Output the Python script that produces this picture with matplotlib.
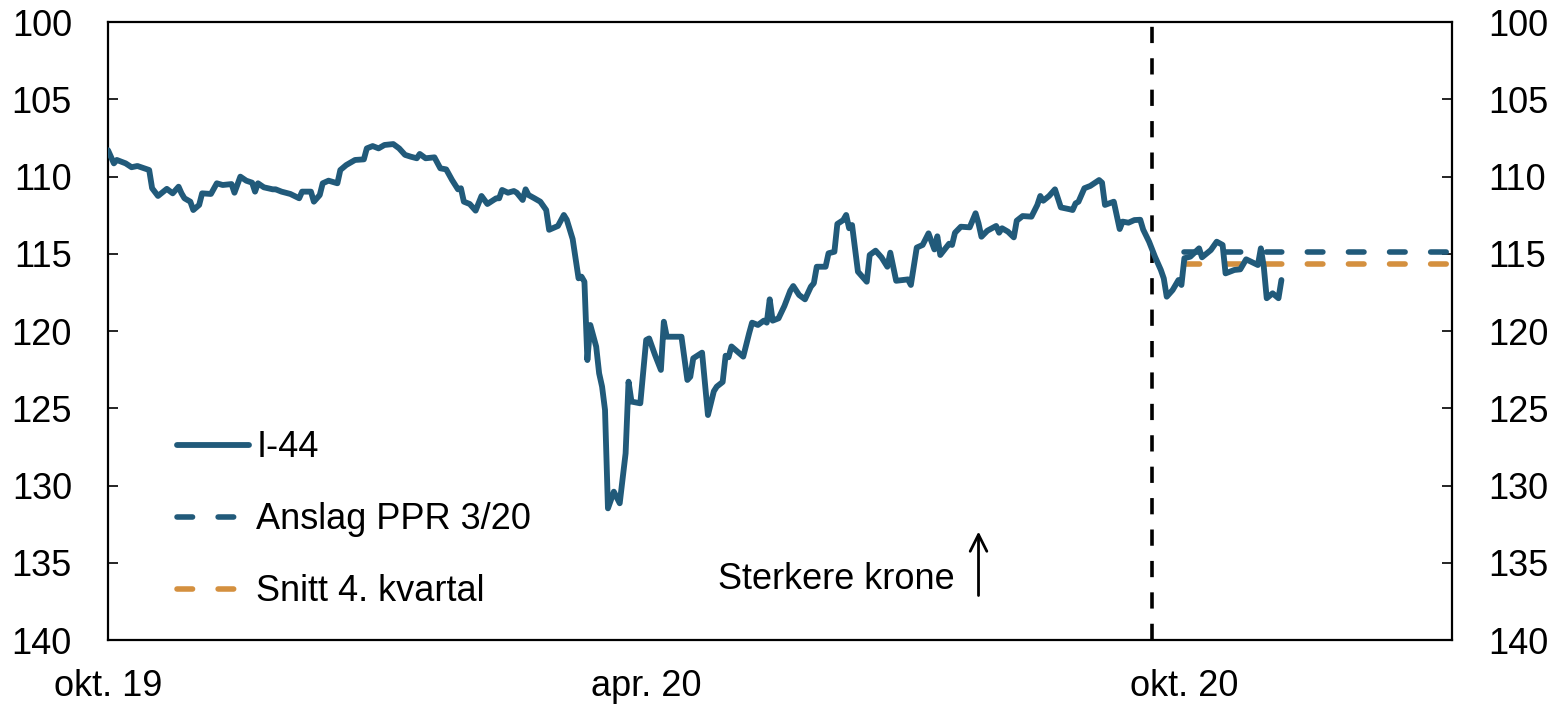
import numpy as np
import pandas as pd
import matplotlib
matplotlib.use('Agg')
import matplotlib.pyplot as plt

# I-44 (inverted scale: up = stronger krone)
dates = ['2019-10-01', '2019-10-03', '2019-10-04', '2019-10-07', '2019-10-09', '2019-10-11',
         '2019-10-15', '2019-10-16', '2019-10-18', '2019-10-21', '2019-10-23', '2019-10-25',
         '2019-10-26', '2019-10-27', '2019-10-29', '2019-10-30', '2019-11-01', '2019-11-02',
         '2019-11-05', '2019-11-07', '2019-11-09', '2019-11-12', '2019-11-13', '2019-11-15',
         '2019-11-17', '2019-11-19', '2019-11-20', '2019-11-21', '2019-11-23', '2019-11-26',
         '2019-11-27', '2019-11-29', '2019-12-02', '2019-12-05', '2019-12-06', '2019-12-09',
         '2019-12-10', '2019-12-12', '2019-12-13', '2019-12-15', '2019-12-18', '2019-12-19',
         '2019-12-21', '2019-12-24', '2019-12-27', '2019-12-28', '2019-12-30', '2020-01-01',
         '2020-01-03', '2020-01-06', '2020-01-08', '2020-01-10', '2020-01-12', '2020-01-14',
         '2020-01-15', '2020-01-17', '2020-01-20', '2020-01-22', '2020-01-24', '2020-01-26',
         '2020-01-28', '2020-01-29', '2020-01-30', '2020-02-01', '2020-02-03', '2020-02-05',
         '2020-02-07', '2020-02-10', '2020-02-11', '2020-02-12', '2020-02-14', '2020-02-16',
         '2020-02-17', '2020-02-19', '2020-02-20', '2020-02-21', '2020-02-23', '2020-02-25',
         '2020-02-27', '2020-02-28', '2020-03-02', '2020-03-04', '2020-03-05', '2020-03-07',
         '2020-03-09', '2020-03-10', '2020-03-11', '2020-03-12', '2020-03-13', '2020-03-15',
         '2020-03-16', '2020-03-17', '2020-03-18', '2020-03-19', '2020-03-21', '2020-03-23',
         '2020-03-25', '2020-03-26', '2020-03-27', '2020-03-30', '2020-04-01', '2020-04-02',
         '2020-04-04', '2020-04-06', '2020-04-07', '2020-04-08', '2020-04-13', '2020-04-15',
         '2020-04-16', '2020-04-17', '2020-04-20', '2020-04-22', '2020-04-24', '2020-04-25',
         '2020-04-27', '2020-04-28', '2020-04-29', '2020-04-30', '2020-05-04', '2020-05-06',
         '2020-05-07', '2020-05-09', '2020-05-11', '2020-05-12', '2020-05-13', '2020-05-14',
         '2020-05-16', '2020-05-18', '2020-05-20', '2020-05-21', '2020-05-23', '2020-05-25',
         '2020-05-27', '2020-05-28', '2020-05-29', '2020-06-01', '2020-06-02', '2020-06-04',
         '2020-06-05', '2020-06-07', '2020-06-08', '2020-06-09', '2020-06-10', '2020-06-12',
         '2020-06-15', '2020-06-16', '2020-06-18', '2020-06-20', '2020-06-22', '2020-06-23',
         '2020-06-25', '2020-06-29', '2020-06-30', '2020-07-02', '2020-07-04', '2020-07-06',
         '2020-07-08', '2020-07-09', '2020-07-10', '2020-07-13', '2020-07-14', '2020-07-15',
         '2020-07-17', '2020-07-20', '2020-07-22', '2020-07-23', '2020-07-24', '2020-07-26',
         '2020-07-29', '2020-07-30', '2020-07-31', '2020-08-02', '2020-08-04', '2020-08-05',
         '2020-08-07', '2020-08-10', '2020-08-12', '2020-08-13', '2020-08-14', '2020-08-16',
         '2020-08-18', '2020-08-20', '2020-08-23', '2020-08-24', '2020-08-25', '2020-08-26',
         '2020-08-28', '2020-08-30', '2020-09-02', '2020-09-03', '2020-09-04', '2020-09-07',
         '2020-09-09', '2020-09-10', '2020-09-12', '2020-09-14', '2020-09-16', '2020-09-17',
         '2020-09-19', '2020-09-21', '2020-09-23', '2020-09-24', '2020-09-25', '2020-09-27',
         '2020-09-29', '2020-09-30', '2020-10-01', '2020-10-03', '2020-10-06', '2020-10-07',
         '2020-10-10', '2020-10-12', '2020-10-14', '2020-10-15', '2020-10-18', '2020-10-20',
         '2020-10-22', '2020-10-26', '2020-10-27', '2020-10-28', '2020-10-29', '2020-10-31',
         '2020-11-02', '2020-11-03']
i44 = [108.30, 109.15, 108.93, 109.15, 109.40, 109.32,
       109.58, 110.76, 111.26, 110.80, 111.09, 110.66,
       111.09, 111.41, 111.63, 112.17, 111.84, 111.09,
       111.13, 110.44, 110.55, 110.49, 111.05, 110.01,
       110.27, 110.40, 110.98, 110.44, 110.70, 110.83,
       110.83, 110.98, 111.13, 111.41, 110.98, 110.98,
       111.63, 111.20, 110.44, 110.27, 110.44, 109.58,
       109.26, 108.93, 108.89, 108.18, 108.03, 108.18,
       107.96, 107.90, 108.18, 108.60, 108.72, 108.82,
       108.54, 108.82, 108.76, 109.47, 109.54, 110.23,
       110.83, 110.76, 111.63, 111.78, 112.21, 111.26,
       111.78, 111.41, 111.41, 110.87, 111.05, 110.94,
       111.05, 111.52, 110.83, 111.20, 111.41, 111.63,
       112.17, 113.45, 113.20, 112.49, 112.80, 114.05,
       116.59, 116.48, 116.81, 121.88, 119.61, 121.01,
       122.74, 123.60, 125.11, 131.48, 130.40, 131.15,
       127.92, 123.28, 124.57, 124.68, 120.58, 120.48,
       121.55, 122.52, 119.40, 120.37, 120.37, 123.17,
       122.96, 121.77, 121.40, 125.44, 123.90, 123.60,
       123.30, 121.60, 121.70, 121.00, 121.66, 120.15,
       119.46, 119.61, 119.33, 119.46, 117.95, 119.33,
       119.18, 118.38, 117.39, 117.09, 117.67, 117.95,
       117.13, 116.91, 115.84, 115.84, 114.97, 114.87,
       113.07, 112.82, 112.49, 113.35, 113.14, 116.16,
       116.81, 115.08, 114.80, 115.23, 115.84, 114.93,
       116.75, 116.66, 117.02, 114.60, 114.43, 113.68,
       114.72, 113.87, 115.08, 114.35, 114.43, 113.64,
       113.25, 113.29, 112.38, 113.03, 113.90, 113.51,
       113.20, 113.64, 113.35, 113.57, 113.94, 112.86,
       112.56, 112.60, 111.84, 111.26, 111.57, 111.26,
       110.83, 112.00, 112.12, 112.17, 111.74, 111.63,
       110.76, 110.61, 110.23, 110.40, 111.84, 111.63,
       113.40, 112.92, 112.99, 112.82, 112.80, 113.44,
       114.22, 115.19, 116.05, 116.60, 117.78, 117.35,
       116.70, 117.02, 115.29, 115.19, 114.65, 115.23,
       114.76, 114.22, 114.43, 116.27, 116.05, 116.01,
       115.36, 115.73, 114.65, 115.84, 117.88, 117.56,
       117.88, 116.70]

fc_dates = ['2020-10-01', '2020-12-31']
ppr_320 = [114.87, 114.87]
snitt_q4 = [115.68, 115.68]
mpr_date = '2020-09-20'

xlabels = ['okt. 19', 'apr. 20', 'okt. 20']
xticks = ['2019-10-01', '2020-04-01', '2020-10-01']

blue = '#215a7a'
orange = '#d4903f'
fs = 26

plt.rcParams['font.family'] = ['Liberation Sans', 'DejaVu Sans']

fig = plt.figure(figsize=(15.59, 7.05), dpi=100)
ax = fig.add_axes([108/1559, 1 - 640/705, 1344/1559, 618/705])

ax.plot(pd.to_datetime(dates), i44, color=blue, lw=4.2, solid_joinstyle='round',
        solid_capstyle='round', label='I-44', zorder=3)
ax.plot(pd.to_datetime(fc_dates), ppr_320, color=blue, lw=4.0, ls=(0, (2.8, 4.6)),
        dash_capstyle='round', label='Anslag PPR 3/20', zorder=2)
ax.plot(pd.to_datetime(fc_dates), snitt_q4, color=orange, lw=4.0, ls=(0, (2.8, 4.6)),
        dash_capstyle='round', label='Snitt 4. kvartal', zorder=2)
ax.axvline(pd.Timestamp(mpr_date), color='black', lw=2.6, ls=(0, (4.5, 4.2)), zorder=1)

ax.set_xlim(pd.Timestamp('2019-10-01'), pd.Timestamp('2020-12-31'))
ax.set_ylim(140, 100)
ax.set_yticks(np.arange(100, 141, 5))
ax.set_xticks(pd.to_datetime(xticks))
ax.set_xticklabels(xlabels)

ax.tick_params(axis='y', direction='in', length=7, width=1.2, labelsize=fs,
               left=True, right=True, labelleft=True, labelright=True, pad=26)
ax.tick_params(axis='x', length=0, labelsize=fs, pad=21)
for s in ax.spines.values():
    s.set_linewidth(1.6)

leg = ax.legend(loc='upper left', bbox_to_anchor=(0.0513, 0.339), frameon=False,
                fontsize=fs, handlelength=2.0, handletextpad=0.2, labelspacing=1.02,
                borderpad=0, borderaxespad=0)

ax.text(pd.Timestamp('2020-07-15'), 136.1, 'Sterkere krone', fontsize=fs,
        ha='right', va='center')
ax.annotate('', xy=(pd.Timestamp('2020-07-23'), 132.8),
            xytext=(pd.Timestamp('2020-07-23'), 137.3),
            arrowprops=dict(arrowstyle='->', lw=2, color='black',
                            mutation_scale=30))

fig.savefig('out.png', dpi=100)
